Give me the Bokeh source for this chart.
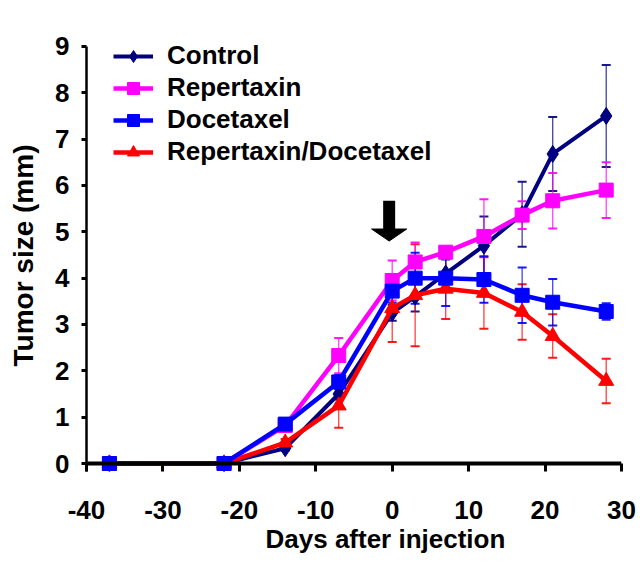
from bokeh.plotting import figure
from bokeh.models import (Range1d, FixedTicker, Whisker, TeeHead, ColumnDataSource,
                          Legend, LegendItem, Span, Title)
from bokeh.embed import file_html
from bokeh.resources import INLINE

# ---------------- data ----------------
days = [-37, -22, -14, -7, 0, 3, 7, 12, 17, 21, 28]

control = [0, 0, 0.33, 1.5, 3.25, 3.6, 4.1, 4.7, 5.38, 6.68, 7.5]
control_err = [0.02, 0.02, 0.05, 0.12, 0.17, 0.32, 0.3, 0.63, 0.7, 0.8, 1.1]

repertaxin = [0, 0, 0.82, 2.33, 3.95, 4.35, 4.56, 4.9, 5.36, 5.67, 5.9]
repertaxin_err = [0.03, 0.03, 0.1, 0.38, 0.43, 0.42, 0.12, 0.8, 0.3, 0.6, 0.6]

docetaxel = [0, 0, 0.85, 1.76, 3.72, 4.0, 4.0, 3.97, 3.63, 3.48, 3.28]
docetaxel_err = [0.02, 0.02, 0.08, 0.15, 0.25, 0.55, 0.6, 0.5, 0.6, 0.5, 0.18]

combo = [0, 0, 0.45, 1.25, 3.35, 3.63, 3.77, 3.68, 3.27, 2.75, 1.78]
combo_err = [0.02, 0.02, 0.08, 0.48, 0.73, 1.1, 0.65, 0.77, 0.6, 0.47, 0.48]

series_names = ["Control", "Repertaxin", "Docetaxel", "Repertaxin/Docetaxel"]
x_ticks = [-40, -30, -20, -10, 0, 10, 20, 30]
x_tick_labels = ["-40", "-30", "-20", "-10", "0", "10", "20", "30"]
y_ticks = [0, 1, 2, 3, 4, 5, 6, 7, 8, 9]

# injection arrow (annotation)
arrow_day = -0.4
arrow_top = 5.67
arrow_neck = 5.06
arrow_tip = 4.8
arrow_head_half = 2.3

FONT = "Liberation Sans"
FS = "26px"

p = figure(width=636, height=561, output_backend="svg", toolbar_location=None,
           x_range=Range1d(-40, 30), y_range=Range1d(-0.1726, 9.15),
           min_border_left=86, min_border_right=15, min_border_top=39,
           min_border_bottom=90)
p.outline_line_color = None
p.grid.visible = False
p.background_fill_color = "white"
p.border_fill_color = "white"

# x axis: labels + ticks at the frame bottom, ticks pointing up to the zero line
xa = p.xaxis[0]
xa.ticker = FixedTicker(ticks=x_ticks)
xa.major_label_overrides = {t: s for t, s in zip(x_ticks, x_tick_labels)}
xa.axis_line_color = None
xa.major_tick_out = 0
xa.major_tick_in = 8
xa.minor_tick_line_color = None
xa.major_tick_line_width = 3
xa.major_label_text_font = FONT
xa.major_label_text_font_size = FS
xa.major_label_text_font_style = "bold"
xa.major_label_text_color = "black"
xa.major_label_standoff = 29

# zero baseline of the x axis
p.add_layout(Span(location=0, dimension="width", line_color="black", line_width=4))

ya = p.yaxis[0]
ya.ticker = FixedTicker(ticks=y_ticks)
ya.bounds = (-0.1726, 9)
ya.major_tick_out = 5
ya.major_tick_in = 0
ya.minor_tick_line_color = None
ya.axis_line_width = 2.5
ya.axis_line_color = "black"
ya.major_tick_line_width = 3
ya.major_label_text_font = FONT
ya.major_label_text_font_size = FS
ya.major_label_text_font_style = "bold"
ya.major_label_text_color = "black"
ya.major_label_standoff = 12
ya.axis_label = "Tumor size (mm)"
ya.axis_label_text_font = FONT
ya.axis_label_text_font_size = "28px"
ya.axis_label_text_font_style = "bold"
ya.axis_label_text_color = "black"
ya.axis_label_standoff = 13

p.add_layout(Title(text="Days after injection", align="left", offset=179,
                   vertical_align="bottom", standoff=0, text_font=FONT,
                   text_font_size=FS, text_font_style="bold", text_color="black"),
             "below")

# series (drawing order: control, combo, repertaxin, docetaxel)
specs = [
    ("Control", control, control_err, "#000080", "diamond", 17, 4),
    ("Repertaxin/Docetaxel", combo, combo_err, "#FF0000", "triangle", 15, 4.5),
    ("Repertaxin", repertaxin, repertaxin_err, "#FF00FF", "square", 14, 4.5),
    ("Docetaxel", docetaxel, docetaxel_err, "#0000FF", "square", 14, 4.5),
]

items = {}
for name, vals, errs, color, marker, size, lw in specs:
    lower = [v - e for v, e in zip(vals, errs)]
    upper = [v + e for v, e in zip(vals, errs)]
    src = ColumnDataSource(dict(x=days, y=vals, lower=lower, upper=upper))
    w = Whisker(source=src, base="x", lower="lower", upper="upper",
                line_color=color, line_width=1.3, line_alpha=0.75,
                upper_head=TeeHead(size=9, line_color=color, line_width=2, line_alpha=0.9),
                lower_head=TeeHead(size=9, line_color=color, line_width=2, line_alpha=0.9))
    p.add_layout(w)
    lr = p.line("x", "y", source=src, line_color=color, line_width=lw)
    sr = p.scatter("x", "y", source=src, marker=marker, size=size,
                   fill_color=color, line_color=color)
    items[name] = [lr, sr]

# arrow marking the injection day
p.segment(x0=[arrow_day], y0=[arrow_top], x1=[arrow_day], y1=[arrow_neck],
          line_color="black", line_width=12, line_cap="butt")
p.patch(x=[arrow_day - arrow_head_half, arrow_day + arrow_head_half, arrow_day],
        y=[arrow_neck, arrow_neck, arrow_tip], fill_color="black", line_color="black",
        line_width=1)

legend = Legend(items=[LegendItem(label=n, renderers=items[n]) for n in series_names],
                location=(27, 304), margin=0, padding=0, spacing=1,
                glyph_width=40, glyph_height=30, label_standoff=14,
                label_text_font=FONT, label_text_font_size=FS,
                label_text_font_style="bold", label_text_color="black",
                border_line_color=None, background_fill_alpha=0)
p.add_layout(legend)

open("out.html", "w").write(file_html(p, INLINE))
